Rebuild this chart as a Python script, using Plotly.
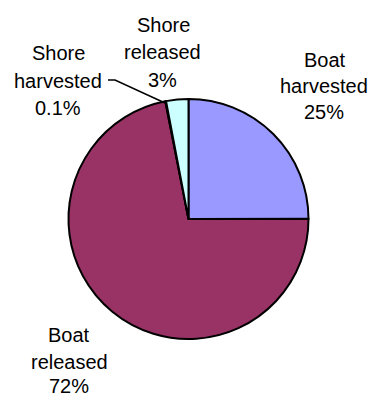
import plotly.graph_objects as go

categories = ["Boat harvested", "Boat released", "Shore harvested", "Shore released"]
values = [25, 72, 0.1, 3]
pct_labels = ["25%", "72%", "0.1%", "3%"]
colors = ["#9999FF", "#993366", "#FFFFCC", "#CCFFFF"]

W, H = 375, 398

fig = go.Figure(go.Pie(
    labels=categories,
    values=values,
    sort=False,
    direction="clockwise",
    rotation=0,
    marker=dict(colors=colors, line=dict(color="black", width=2)),
    textinfo="none",
    hoverinfo="label+percent",
    showlegend=False,
    domain=dict(x=[68.5 / W, 308.5 / W], y=[1 - 339 / H, 1 - 99 / H]),
))

# label lines: (category index, [(x, y) pixel centers of each line])
label_layout = {
    0: [(325, 58.5), (324, 85), (324, 110.5)],
    1: [(69, 334), (69, 361), (69, 384.5)],
    2: [(58, 52), (58, 80), (58, 107)],
    3: [(163, 24), (162.5, 51), (162, 79.5)],
}

annotations = []
for idx, pos in label_layout.items():
    words = categories[idx].split(" ")
    lines = [words[0], words[1], pct_labels[idx]]
    for text, (x, y) in zip(lines, pos):
        annotations.append(dict(
            x=x / W, y=1 - (y + 1) / H, xref="paper", yref="paper",
            text=text, showarrow=False, xanchor="center", yanchor="middle",
            borderpad=0,
            font=dict(family="Liberation Sans, Arial", size=20, color="black"),
        ))

# leader line for Shore harvested
fig.add_shape(type="path",
              path=f"M {108/W},{1-80/H} L {115/W},{1-80/H} L {165/W},{1-103/H}",
              xref="paper", yref="paper", line=dict(color="black", width=1.5))

fig.update_layout(
    width=W, height=H,
    margin=dict(l=0, r=0, t=0, b=0),
    paper_bgcolor="white", plot_bgcolor="white",
    annotations=annotations,
)

fig.write_html("out.html")
